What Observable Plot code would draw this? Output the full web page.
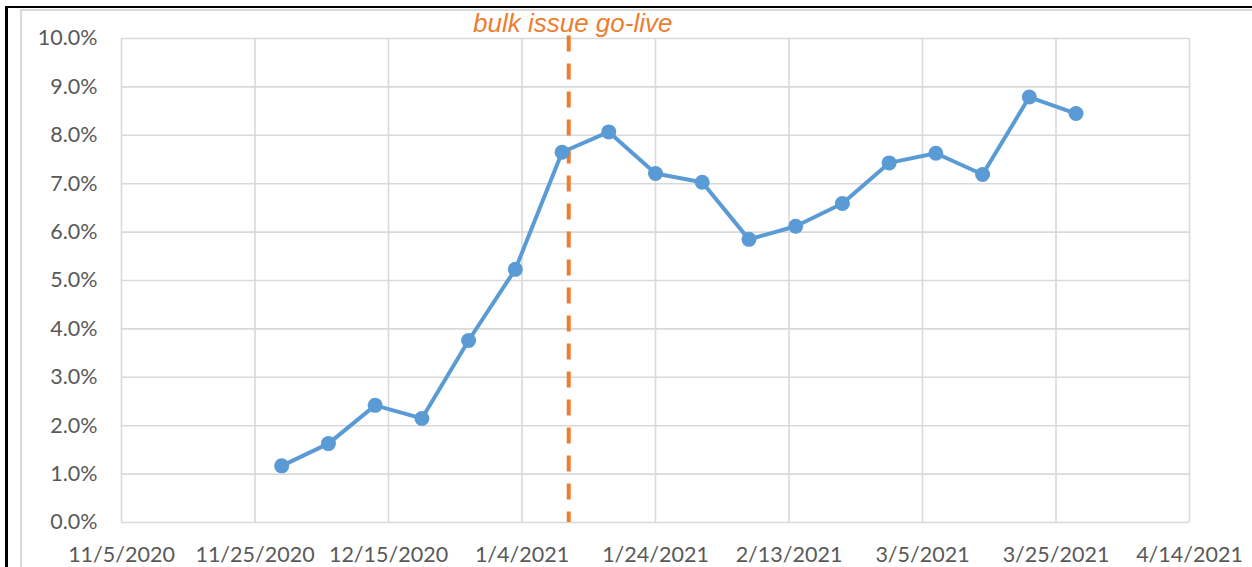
<!DOCTYPE html>
<html>
<head>
<meta charset="utf-8">
<script src="https://cdn.jsdelivr.net/npm/d3@7"></script>
<script src="https://cdn.jsdelivr.net/npm/@observablehq/plot@0.6"></script>
<style>
  html, body { margin: 0; padding: 0; background: #fff; }
  #wrap { position: relative; width: 1252px; height: 567px; overflow: hidden; background: #fff; }
  #wrap svg { display: block; position: absolute; left: 0; top: 0; }
  .bk-left { position: absolute; left: 5px; top: 6px; width: 3px; height: 561px; background: #000; }
  .bk-top { position: absolute; left: 5px; top: 6px; width: 1247px; height: 2px; background: #000; }
  .gr-left { position: absolute; left: 20px; top: 9px; width: 2px; height: 558px; background: #D9D9D9; }
  .gr-top { position: absolute; left: 20px; top: 9px; width: 1232px; height: 2px; background: #D9D9D9; }
</style>
</head>
<body>
<div id="wrap">
  <div class="gr-left"></div>
  <div class="gr-top"></div>
  <div class="bk-left"></div>
  <div class="bk-top"></div>
</div>
<script>
// ---- data ----
const weeks = [
  "2020-11-29", "2020-12-06", "2020-12-13", "2020-12-20", "2020-12-27",
  "2021-01-03", "2021-01-10", "2021-01-17", "2021-01-24", "2021-01-31",
  "2021-02-07", "2021-02-14", "2021-02-21", "2021-02-28", "2021-03-07",
  "2021-03-14", "2021-03-21", "2021-03-28"
];
const ratePct = [
  1.17, 1.63, 2.42, 2.15, 3.76,
  5.23, 7.65, 8.07, 7.21, 7.03,
  5.85, 6.12, 6.59, 7.43, 7.63,
  7.19, 8.79, 8.45
];
const xTickDates = [
  "2020-11-05", "2020-11-25", "2020-12-15", "2021-01-04", "2021-01-24",
  "2021-02-13", "2021-03-05", "2021-03-25", "2021-04-14"
];
const yTicks = [0, 1, 2, 3, 4, 5, 6, 7, 8, 9, 10];
const goLive = [{date: "2021-01-11", label: "bulk issue go-live"}];

// ---- build ----
const rows = weeks.map((d, i) => ({date: new Date(d), value: ratePct[i]}));
const xTicks = xTickDates.map(d => new Date(d));
const events = goLive.map(e => ({date: new Date(e.date), label: e.label}));
const fmtDate = d => `${d.getUTCMonth() + 1}/${d.getUTCDate()}/${d.getUTCFullYear()}`;

const chart = Plot.plot({
  width: 1252,
  height: 567,
  marginLeft: 121,
  marginRight: 63,
  marginTop: 38,
  marginBottom: 45,
  style: {fontFamily: "Lato, 'Open Sans', sans-serif", fontSize: "21.5px", color: "#595959", background: "transparent", overflow: "visible"},
  x: {type: "utc", domain: [xTicks[0], xTicks[xTicks.length - 1]]},
  y: {domain: [0, 10]},
  marks: [
    Plot.gridY(yTicks, {stroke: "#D9D9D9", strokeOpacity: 1, strokeWidth: 1.6}),
    Plot.gridX(xTicks, {stroke: "#D9D9D9", strokeOpacity: 1, strokeWidth: 1.6}),
    Plot.axisY(yTicks, {tickSize: 0, tickPadding: 24, tickFormat: d => d.toFixed(1) + "%", fill: "#595959", label: null}),
    Plot.axisX(xTicks, {tickSize: 0, tickPadding: 24, tickFormat: fmtDate, fill: "#595959", label: null}),
    Plot.ruleX(events, {x: "date", y1: 10.05, y2: 0, stroke: "#ED7D31", strokeWidth: 4, strokeDasharray: "16,12"}),
    Plot.lineY(rows, {x: "date", y: "value", stroke: "#5B9BD5", strokeWidth: 4}),
    Plot.dot(rows, {x: "date", y: "value", r: 7.5, fill: "#5B9BD5", stroke: "none"}),
    Plot.text(events, {x: "date", y: () => 10, text: "label", lineAnchor: "bottom", dy: -6.5, dx: 4,
      fill: "#ED7D31", fontSize: 26, fontStyle: "italic", fontFamily: "'Liberation Sans', Arial, sans-serif"})
  ]
});
document.getElementById("wrap").prepend(chart);
</script>
</body>
</html>
